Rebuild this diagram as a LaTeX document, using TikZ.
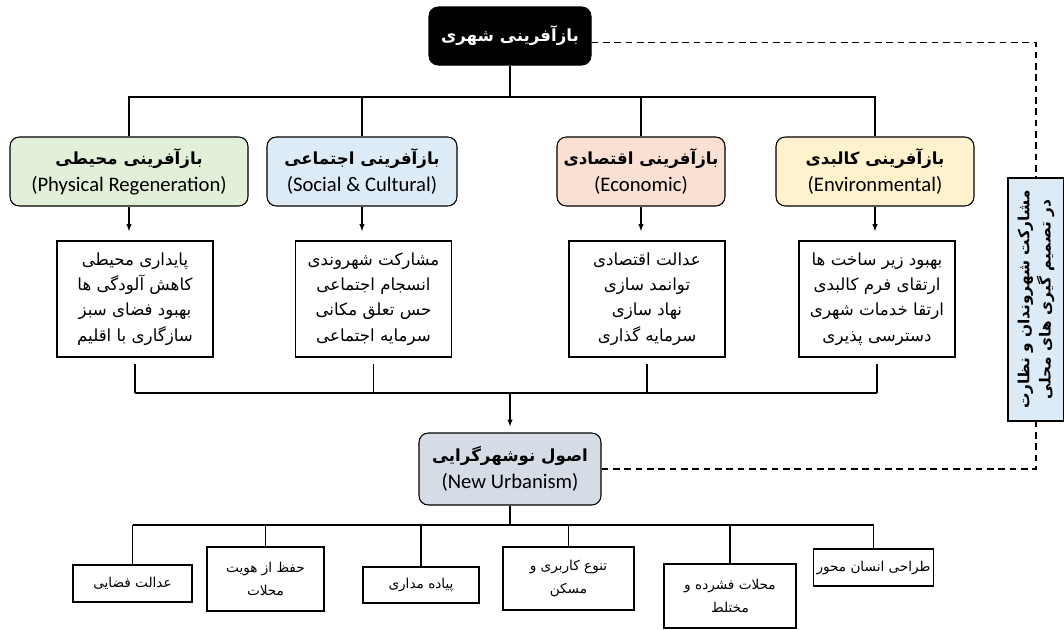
\documentclass[tikz,border=0pt]{standalone}
\usepackage{fontspec}
\setmainfont{Carlito}
\newfontfamily\arabicfont[Script=Arabic]{DejaVu Sans}
\TeXXeTstate=1
\usetikzlibrary{positioning}
\newcommand{\fa}[1]{{\arabicfont\beginR #1\endR}}
\newcommand{\fab}[1]{{\arabicfont\bfseries\beginR #1\endR}}
\newcommand{\fah}[1]{{\fontsize{12.5}{20}\selectfont\fab{#1}}}
\definecolor{envgreen}{RGB}{226,239,217}
\definecolor{socblue}{RGB}{221,235,247}
\definecolor{ecopeach}{RGB}{250,224,210}
\definecolor{physyellow}{RGB}{255,242,204}
\definecolor{nugray}{RGB}{214,220,229}
\tikzset{every node/.style={align=center}, >=latex}

\begin{document}
\begin{tikzpicture}[x=0.75pt, y=-0.75pt, line width=0.8pt,
    head/.style={draw, rounded corners=7pt, minimum height=51.75pt, inner sep=2pt, font=\fontsize{15.5}{20}\selectfont},
    list/.style={draw, minimum width=117pt, minimum height=87pt, inner sep=2pt, font=\fontsize{12.5}{19}\selectfont},
    leaf/.style={draw, inner sep=2pt, font=\fontsize{10.2}{17}\selectfont},
    link/.style={dashed, dash pattern=on 5pt off 3.5pt}]
\useasboundingbox (0,0) rectangle (1064,629);

\node [draw, fill=black, text=white, rounded corners=7pt, minimum width=121.5pt, minimum height=43.5pt, font=\fontsize{12.5}{16}\selectfont] (title) at (510,36) {\fab{بازآفرینی شهری}};

\node [head, fill=envgreen, minimum width=178.5pt] (g) at (129,171.5) {\fah{بازآفرینی محیطی}\\(Physical Regeneration)};
\node [head, fill=socblue, minimum width=142.5pt] (s) at (362,171.5) {\fah{بازآفرینی اجتماعی}\\(Social \& Cultural)};
\node [head, fill=ecopeach, minimum width=126pt] (e) at (641,171.5) {\fah{بازآفرینی اقتصادی}\\(Economic)};
\node [head, fill=physyellow, minimum width=148.5pt] (p) at (875,171.5) {\fah{بازآفرینی کالبدی}\\(Environmental)};

\node [list] (gl) at (135,299) {\fa{پایداری محیطی}\\\fa{کاهش آلودگی ها}\\\fa{بهبود فضای سبز}\\\fa{سازگاری با اقلیم}};
\node [list] (sl) at (373.5,299) {\fa{مشارکت شهروندی}\\\fa{انسجام اجتماعی}\\\fa{حس تعلق مکانی}\\\fa{سرمایه اجتماعی}};
\node [list] (el) at (647,299) {\fa{عدالت اقتصادی}\\\fa{توانمد سازی}\\\fa{نهاد سازی}\\\fa{سرمایه گذاری}};
\node [list] (pl) at (877,299) {\fa{بهبود زیر ساخت ها}\\\fa{ارتقای فرم کالبدی}\\\fa{ارتقا خدمات شهری}\\\fa{دسترسی پذیری}};

\node [head, fill=nugray, minimum width=136.5pt, minimum height=54pt] (nu) at (510,469) {\fah{اصول نوشهرگرایی}\\(New Urbanism)};

\node [draw, fill=socblue, rotate=90, minimum width=182.25pt, minimum height=42pt, inner sep=1pt, font=\fontsize{11.5}{16}\selectfont] (side) at (1036,299.5) {\fab{مشارکت شهروندان و نظارت}\\\fab{در تصمیم گیری های محلی}};

\node [leaf, minimum width=89.25pt, minimum height=27.75pt] (b1) at (132.5,583.5) {\fa{عدالت فضایی}};
\node [leaf, minimum width=87.75pt, minimum height=48pt] (b2) at (265.5,579) {\fa{حفظ از هویت}\\\fa{محلات}};
\node [leaf, minimum width=87pt, minimum height=27pt] (b3) at (421,585) {\fa{پیاده مداری}};
\node [leaf, minimum width=98.25pt, minimum height=47.25pt] (b4) at (568.5,578.5) {\fa{تنوع کاربری و}\\\fa{مسکن}};
\node [leaf, minimum width=99pt, minimum height=48pt] (b5) at (730,596) {\fa{محلات فشرده و}\\\fa{مختلط}};
\node [leaf, minimum width=84.75pt, minimum height=27.75pt] (b6) at (873.5,567.5) {\fa{طراحی انسان محور}};

\coordinate (top) at (510,97);
\coordinate (mid) at (510,393);
\coordinate (low) at (510,525);

\draw (title) -- (top);
\draw (g.north) -- (g.north |- top) -- (p.north |- top) -- (p.north);
\draw (s.north) -- (s.north |- top);
\draw (e.north) -- (e.north |- top);
\foreach \a/\b in {g/gl, s/sl, e/el, p/pl}
    \draw [->, shorten >=7pt] (\a.south) -- (\a.south |- \b.north);

\foreach \b in {gl, sl, el, pl}
    \draw [shorten <=4.5pt] (\b.south) -- (\b.south |- mid);
\draw (gl.south |- mid) -- (pl.south |- mid);
\draw [->, shorten >=4.5pt] (mid) -- (nu.north);

\draw (nu) -- (low);
\draw (b1.north |- low) -- (b6.north |- low);
\foreach \b in {b1, b2, b3, b4, b5, b6}
    \draw (\b.north |- low) -- (\b.north);

\draw [link] ([yshift=-5pt]title.east) -| (side.east);
\draw [link] (nu.east) -| (side.west);
\end{tikzpicture}
\end{document}
